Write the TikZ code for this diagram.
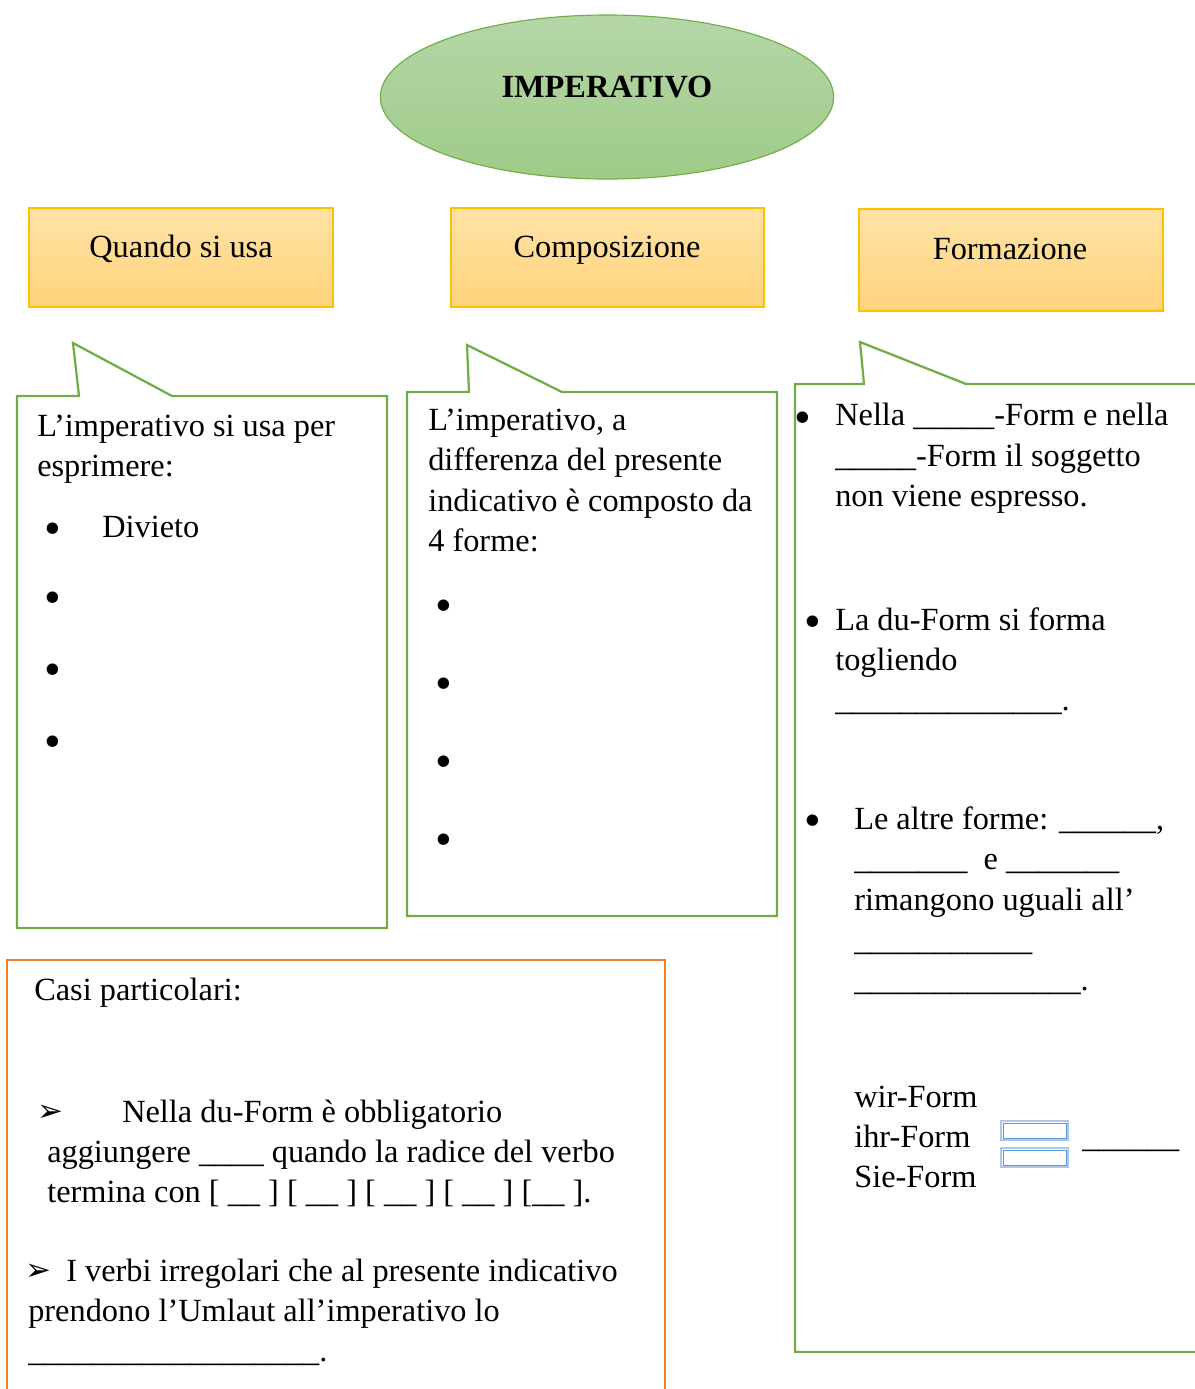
\documentclass[tikz,border=0pt]{standalone}
\usepackage{fontspec}
\setmainfont{Liberation Serif}
\newfontfamily\arrowfont{DejaVu Sans}
\usepackage[HTML]{xcolor}
\usetikzlibrary{positioning,shapes.geometric}

\definecolor{ovalline}{HTML}{70AD47}
\definecolor{ovaltop}{HTML}{B5D6A8}
\definecolor{ovalbot}{HTML}{9FCB88}
\definecolor{boxgold}{HTML}{FFC000}
\definecolor{boxtop}{HTML}{FFE3A6}
\definecolor{boxbot}{HTML}{FFD37C}
\definecolor{casiorange}{HTML}{ED7D31}
\definecolor{formblue}{HTML}{5B9BD5}
\definecolor{formpale}{HTML}{A9C9EA}

\newcommand{\txtsize}{\fontsize{23pt}{28.45pt}\selectfont}

\tikzset{
  head/.style={draw=boxgold, top color=boxtop, bottom color=boxbot, line width=0.8pt},
  callout/.style={draw=ovalline, line width=1.6pt, line join=miter},
  casibox/.style={draw=casiorange, line width=1.4pt},
  formbox/.style={draw=formpale, line width=1.3pt},
  forminner/.style={draw=formblue, line width=0.5pt},
  txt/.style={font=\txtsize, inner sep=0pt, align=left, anchor=base west},
  dot/.style={font=\txtsize, inner sep=0pt, anchor=base},
  bigdot/.style={font=\fontsize{34pt}{34pt}\selectfont, inner sep=0pt, anchor=base},
  arrowmark/.style={font=\fontsize{22pt}{22pt}\arrowfont, inner sep=0pt, anchor=base},
}

\begin{document}
\begin{tikzpicture}[x=0.025cm, y=-0.025cm]
\useasboundingbox (0,0) rectangle (1195,1389);

\node[ellipse, draw=ovalline, line width=0.8pt, top color=ovaltop, bottom color=ovalbot,
      minimum width=11.33cm, minimum height=4.1cm, inner sep=0pt] (oval) at (607,97) {};
\node[font=\fontsize{23pt}{26pt}\selectfont\bfseries, inner sep=0pt, anchor=base] (title) at (607,97) {IMPERATIVO};

\draw[head] (29,208) rectangle (333,307);
\draw[head] (451,208) rectangle (764,307);
\draw[head] (859,209) rectangle (1163,311);
\node[dot] (quando) at (181,257) {Quando si usa};
\node[dot] (compos) at (607,257) {Composizione};
\node[dot] (formaz) at (1010,259) {Formazione};

\draw[callout] (17,396) -- (79,396) -- (73,343) -- (172,396) -- (387,396) -- (387,928) -- (17,928) -- cycle;
\draw[callout] (407,392) -- (469,392) -- (467,345) -- (562,392) -- (777,392) -- (777,916) -- (407,916) -- cycle;
\draw[callout] (1197,384) -- (966,384) -- (860,342) -- (864,384) -- (795,384) -- (795,1352) -- (1197,1352);

\draw[casibox] (7,1392) -- (7,960) -- (665,960) -- (665,1392);

\node[txt] (usaintro) at (37,476) {L’imperativo si usa per\\esprimere:};
\node[txt] (divieto) at (102,537) {Divieto};
\foreach \y [count=\i] in {528,597,669,741}
  \node[bigdot] (ub\i) at (53,\y+16) {•};

\node[txt] (compintro) at (428,551) {L’imperativo, a\\differenza del presente\\indicativo è composto da\\4 forme:};
\foreach \y [count=\i] in {605,683,761,839}
  \node[bigdot] (cb\i) at (444,\y+16) {•};

\node[bigdot] (fb1) at (803,433) {•};
\node[txt] (nellaform) at (835,506) {Nella \_\_\_\_\_-Form e nella\\\_\_\_\_\_-Form il soggetto\\non viene espresso.};
\node[bigdot] (fb2) at (813,637) {•};
\node[txt] (duform) at (835,710) {La du-Form si forma\\togliendo\\\_\_\_\_\_\_\_\_\_\_\_\_\_\_.};
\node[bigdot] (fb3) at (813,836) {•};
\node[txt] (altre) at (854,990) {Le altre forme: \_\_\_\_\_\_,\\\_\_\_\_\_\_\_\ \ e \_\_\_\_\_\_\_\\rimangono uguali all’\\\_\_\_\_\_\_\_\_\_\_\_\\\_\_\_\_\_\_\_\_\_\_\_\_\_\_.};

\node[txt] (forms) at (854,1187) {wir-Form\\ihr-Form\\Sie-Form};
\draw[formbox] (1001,1121) rectangle (1068,1140);
\draw[forminner] (1003,1123) rectangle (1066,1138);
\draw[formbox] (1001,1148) rectangle (1068,1167);
\draw[forminner] (1003,1150) rectangle (1066,1165);
\node[txt] (formblank) at (1082,1147) {\_\_\_\_\_\_};

\node[txt] (casi) at (34,1000) {Casi particolari:};
\node[arrowmark] (arr1) at (50,1121) {➢};
\node[txt] (nelladu) at (122,1122) {Nella du-Form è obbligatorio};
\node[txt] (aggiungere) at (47,1202) {aggiungere \_\_\_\_ quando la radice del verbo\\termina con [ \_\_ ] [ \_\_ ] [ \_\_ ] [ \_\_ ] [\_\_ ].};
\node[arrowmark] (arr2) at (38,1280) {➢};
\node[txt] (irregolari) at (66,1281) {I verbi irregolari che al presente indicativo};
\node[txt] (umlaut) at (28,1361) {prendono l’Umlaut all’imperativo lo\\\_\_\_\_\_\_\_\_\_\_\_\_\_\_\_\_\_\_.};
\end{tikzpicture}
\end{document}
